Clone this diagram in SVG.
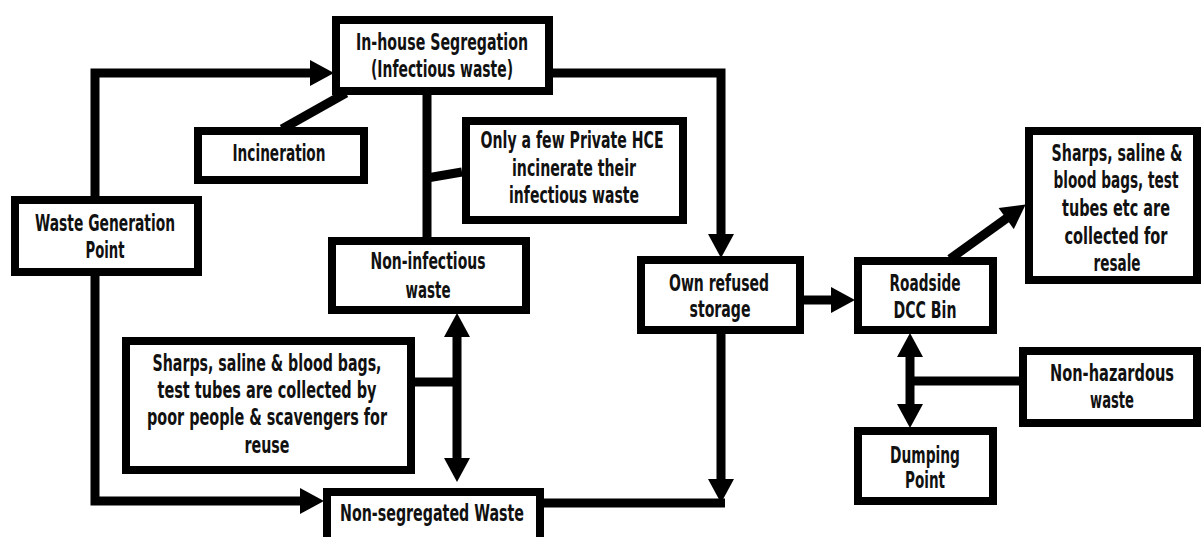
<svg xmlns="http://www.w3.org/2000/svg" width="1201" height="537" viewBox="0 0 1201 537">
<style>
.box{fill:#fff;stroke:#000;stroke-width:8}
.t{font-family:"DejaVu Sans","Liberation Sans",sans-serif;font-size:23px;font-weight:bold;fill:#111;text-anchor:middle}
.c{fill:none;stroke:#000;stroke-width:9}
.a{marker-end:url(#ah)}
.d{marker-start:url(#ah);marker-end:url(#ah)}
</style>
<defs>
<marker id="ah" markerUnits="userSpaceOnUse" markerWidth="26" markerHeight="26" viewBox="0 0 24 26" refX="1" refY="13" orient="auto-start-reverse">
<path d="M0,0 L24,13 L0,26 z" fill="#000"/>
</marker>
</defs>
<rect width="1201" height="537" fill="#fff"/>
<g id="connectors">
<path class="c a" d="M95,200 V73 H311"/>
<path class="c a" d="M95,272 V501 H301"/>
<path class="c" d="M346,93 L282,129"/>
<path class="c" d="M427,95 V237"/>
<path class="c" d="M462,172 L427,178"/>
<path class="c a" d="M553,73 H721 V235"/>
<path class="c a" d="M721,334 V480"/>
<path class="c" d="M544,503 H725"/>
<path class="c a" d="M804,300 H832"/>
<path class="c a" d="M950,259 L1007,218"/>
<path class="c d" d="M910,356 V405"/>
<path class="c" d="M1019,381 H910"/>
<path class="c d" d="M457,336 V459"/>
<path class="c" d="M415,382 H457"/>
</g>
<g id="inhouse"><rect class="box" x="336" y="20" width="213" height="71"/>
<g transform="translate(442,0) scale(0.6,1)"><text class="t" x="0" y="50" textLength="286.7" lengthAdjust="spacingAndGlyphs">In-house Segregation</text><text class="t" x="0" y="77" textLength="236.7" lengthAdjust="spacingAndGlyphs">(Infectious waste)</text></g></g>
<g id="incineration"><rect class="box" x="198" y="131" width="166" height="49"/>
<g transform="translate(279,0) scale(0.6,1)"><text class="t" x="0" y="161" textLength="155" lengthAdjust="spacingAndGlyphs">Incineration</text></g></g>
<g id="only"><rect class="box" x="466" y="121" width="217" height="99"/>
<g transform="translate(574,0) scale(0.6,1)"><text class="t" x="-3.3" y="148" textLength="305" lengthAdjust="spacingAndGlyphs">Only a few Private HCE</text><text class="t" x="0" y="176" textLength="206.7" lengthAdjust="spacingAndGlyphs">incinerate their</text><text class="t" x="0" y="203" textLength="216.7" lengthAdjust="spacingAndGlyphs">infectious waste</text></g></g>
<g id="wastegen"><rect class="box" x="15" y="200" width="183" height="72"/>
<g transform="translate(105,0) scale(0.6,1)"><text class="t" x="0" y="231" textLength="233.3" lengthAdjust="spacingAndGlyphs">Waste Generation</text><text class="t" x="0" y="258" textLength="65" lengthAdjust="spacingAndGlyphs">Point</text></g></g>
<g id="noninf"><rect class="box" x="332" y="241" width="194" height="69"/>
<g transform="translate(428,0) scale(0.6,1)"><text class="t" x="0" y="269" textLength="191.7" lengthAdjust="spacingAndGlyphs">Non-infectious</text><text class="t" x="0" y="298" textLength="75" lengthAdjust="spacingAndGlyphs">waste</text></g></g>
<g id="sharpsleft"><rect class="box" x="126" y="341" width="285" height="129"/>
<g transform="translate(267,0) scale(0.6,1)"><text class="t" x="0" y="371" textLength="381.7" lengthAdjust="spacingAndGlyphs">Sharps, saline &amp; blood bags,</text><text class="t" x="0" y="398" textLength="365" lengthAdjust="spacingAndGlyphs">test tubes are collected  by</text><text class="t" x="0" y="425" textLength="400" lengthAdjust="spacingAndGlyphs">poor people &amp; scavengers for</text><text class="t" x="0" y="453" textLength="75" lengthAdjust="spacingAndGlyphs">reuse</text></g></g>
<g id="nonseg"><rect class="box" x="327" y="492" width="213" height="56"/>
<g transform="translate(432,0) scale(0.6,1)"><text class="t" x="0" y="521" textLength="306.7" lengthAdjust="spacingAndGlyphs">Non-segregated Waste</text></g></g>
<g id="ownrefused"><rect class="box" x="641" y="260" width="159" height="70"/>
<g transform="translate(720,0) scale(0.6,1)"><text class="t" x="-1.7" y="291" textLength="166.7" lengthAdjust="spacingAndGlyphs">Own refused</text><text class="t" x="0" y="317" textLength="101.7" lengthAdjust="spacingAndGlyphs">storage</text></g></g>
<g id="roadside"><rect class="box" x="858" y="261" width="135" height="69"/>
<g transform="translate(925,0) scale(0.6,1)"><text class="t" x="0" y="291" textLength="118.3" lengthAdjust="spacingAndGlyphs">Roadside</text><text class="t" x="0" y="318" textLength="105" lengthAdjust="spacingAndGlyphs">DCC Bin</text></g></g>
<g id="sharpsright"><rect class="box" x="1029" y="131" width="168" height="149"/>
<g transform="translate(1117,0) scale(0.6,1)"><text class="t" x="0" y="161" textLength="218.3" lengthAdjust="spacingAndGlyphs">Sharps, saline &amp;</text><text class="t" x="-1.7" y="188" textLength="208.3" lengthAdjust="spacingAndGlyphs">blood bags, test</text><text class="t" x="-1.7" y="216" textLength="180" lengthAdjust="spacingAndGlyphs">tubes etc are</text><text class="t" x="-1.7" y="244" textLength="171.7" lengthAdjust="spacingAndGlyphs">collected  for</text><text class="t" x="0" y="271" textLength="78.3" lengthAdjust="spacingAndGlyphs">resale</text></g></g>
<g id="nonhaz"><rect class="box" x="1023" y="351" width="174" height="72"/>
<g transform="translate(1112,0) scale(0.6,1)"><text class="t" x="0" y="381" textLength="206.7" lengthAdjust="spacingAndGlyphs">Non-hazardous</text><text class="t" x="0" y="408" textLength="73.3" lengthAdjust="spacingAndGlyphs">waste</text></g></g>
<g id="dumping"><rect class="box" x="858" y="431" width="135" height="70"/>
<g transform="translate(925,0) scale(0.6,1)"><text class="t" x="0" y="463" textLength="116.7" lengthAdjust="spacingAndGlyphs">Dumping</text><text class="t" x="0" y="488" textLength="66.7" lengthAdjust="spacingAndGlyphs">Point</text></g></g>
</svg>
